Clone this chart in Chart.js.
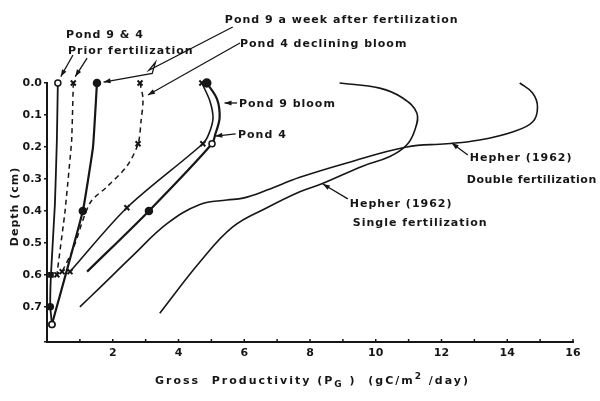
<!DOCTYPE html>
<html>
<head>
<meta charset="utf-8">
<script src="https://cdn.jsdelivr.net/npm/chart.js@4.4.0/dist/chart.umd.min.js"></script>
<style>
  html, body { margin: 0; padding: 0; background: #fff; }
  #wrap { width: 600px; height: 401px; }
</style>
</head>
<body>
<div id="wrap"><canvas id="depthChart" width="600" height="401"></canvas></div>
<script>
// Depth profile of gross productivity
const xTickLabels = [2, 4, 6, 8, 10, 12, 14, 16];
const depthTickLabels = [0.0, 0.1, 0.2, 0.3, 0.4, 0.5, 0.6, 0.7];

// Pond 9 prior fertilization (open circles)
const pond9PriorPg = [0.33, 0.3, 0.24, 0.12, 0.1, 0.15];
const pond9PriorDepth = [0.0, 0.18, 0.38, 0.6, 0.7, 0.755];

// Pond 4 prior fertilization (dashed, crosses)
const pond4PriorPg = [0.8, 0.75, 0.55, 0.3];
const pond4PriorDepth = [0.0, 0.18, 0.4, 0.6];

// Pond 9 a week after fertilization (filled circles)
const pond9WeekPg = [1.52, 1.4, 1.09, 0.15];
const pond9WeekDepth = [0.0, 0.2, 0.4, 0.755];

// Pond 4 declining bloom (dashed, crosses)
const pond4DeclPg = [2.83, 2.92, 2.86, 2.77, 2.43, 1.82, 1.31, 0.79, 0.46];
const pond4DeclDepth = [0.0, 0.05, 0.12, 0.19, 0.26, 0.325, 0.375, 0.52, 0.59];

// Pond 9 bloom
const pond9BloomPg = [4.86, 5.17, 5.25, 5.12, 5.02, 3.1, 1.22];
const pond9BloomDepth = [0.0, 0.05, 0.11, 0.16, 0.19, 0.4, 0.59];

// Pond 4 bloom
const pond4BloomPg = [4.71, 4.95, 5.05, 4.92, 4.74, 2.43, 0.7];
const pond4BloomDepth = [0.0, 0.055, 0.11, 0.16, 0.19, 0.39, 0.59];

// Hepher (1962) double fertilization
const hepherDoublePg = [1.0, 1.61, 2.61, 3.65, 4.65, 5.47, 5.96, 6.69, 7.69, 9.12, 10.94, 12.16, 13.16, 14.16, 14.77, 14.92, 14.77, 14.38];
const hepherDoubleDepth = [0.7, 0.64, 0.54, 0.44, 0.38, 0.366, 0.36, 0.335, 0.295, 0.25, 0.2, 0.19, 0.178, 0.153, 0.122, 0.075, 0.031, 0.0];

// Hepher (1962) single fertilization
const hepherSinglePg = [3.43, 4.65, 5.65, 6.69, 7.69, 8.36, 9.6, 10.43, 10.94, 11.19, 11.25, 10.82, 10.12, 8.9];
const hepherSingleDepth = [0.72, 0.56, 0.45, 0.39, 0.34, 0.315, 0.26, 0.23, 0.194, 0.147, 0.094, 0.047, 0.016, 0.0];

const INK = "#161616";
const FONT = "DejaVu Sans";

function pts(xs, ys) {
  return xs.map((x, i) => ({ x: x, y: ys[i] }));
}

// labels and leader arrows, positioned in data units
const notes = [
  { text: "Pond 9 & 4", x: 0.58, y: -0.14 },
  { text: "Prior fertilization", x: 0.64, y: -0.09 },
  { text: "Pond 9 a week after fertilization", x: 5.41, y: -0.1875 },
  { text: "Pond 4 declining bloom", x: 5.87, y: -0.1125 },
  { text: "Pond 9 bloom", x: 5.84, y: 0.075 },
  { text: "Pond 4", x: 5.81, y: 0.172 },
  { text: "Hepher (1962)", x: 12.86, y: 0.244 },
  { text: "Double fertilization", x: 12.77, y: 0.3125, spacing: "0.5px" },
  { text: "Hepher (1962)", x: 9.21, y: 0.3875 },
  { text: "Single fertilization", x: 9.3, y: 0.447 }
];
const arrows = [
  [[0.79, -0.0875], [0.42, -0.02]],
  [[1.22, -0.078], [0.86, -0.02]],
  [[5.65, -0.175], [3.1, -0.04], [3.3, -0.065], [3.2, -0.03], [1.72, -0.003]],
  [[5.87, -0.125], [3.07, 0.0375]],
  [[5.78, 0.0625], [5.4, 0.0625]],
  [[5.74, 0.159], [5.12, 0.166]],
  [[12.8, 0.225], [12.31, 0.1875]],
  [[9.15, 0.3625], [8.39, 0.316]]
];

const notesPlugin = {
  id: "notes",
  afterDraw(chart) {
    const ctx = chart.ctx;
    const xs = chart.scales.x, ys = chart.scales.y;
    const area = chart.chartArea;
    ctx.save();
    ctx.fillStyle = INK;
    ctx.strokeStyle = INK;

    // inward minor ticks on x axis
    ctx.lineWidth = 1.5;
    for (let v = 1; v <= 16; v++) {
      const px = xs.getPixelForValue(v);
      ctx.beginPath();
      ctx.moveTo(px, area.bottom);
      ctx.lineTo(px, area.bottom - 3);
      ctx.stroke();
    }

    ctx.font = "bold 11px '" + FONT + "'";
    ctx.textBaseline = "alphabetic";
    notes.forEach(n => {
      ctx.letterSpacing = n.spacing || "1px";
      ctx.fillText(n.text, xs.getPixelForValue(n.x), ys.getPixelForValue(n.y));
    });

    ctx.lineWidth = 1.3;
    arrows.forEach(a => {
      const p = a.map(q => [xs.getPixelForValue(q[0]), ys.getPixelForValue(q[1])]);
      ctx.beginPath();
      ctx.moveTo(p[0][0], p[0][1]);
      for (let i = 1; i < p.length; i++) ctx.lineTo(p[i][0], p[i][1]);
      ctx.stroke();
      const e = p[p.length - 1], s = p[p.length - 2];
      const ang = Math.atan2(e[1] - s[1], e[0] - s[0]);
      ctx.beginPath();
      ctx.moveTo(e[0], e[1]);
      ctx.lineTo(e[0] - 7 * Math.cos(ang) + 2.5 * Math.sin(ang), e[1] - 7 * Math.sin(ang) - 2.5 * Math.cos(ang));
      ctx.lineTo(e[0] - 7 * Math.cos(ang) - 2.5 * Math.sin(ang), e[1] - 7 * Math.sin(ang) + 2.5 * Math.cos(ang));
      ctx.closePath();
      ctx.fill();
    });

    // axis titles
    ctx.letterSpacing = "2px";
    let tx = 155;
    const ty = 384;
    const parts = [
      ["Gross  Productivity (P", 0],
      ["G", 3],
      [" )  (gC/m", 0],
      ["2", -5],
      [" /day)", 0]
    ];
    parts.forEach(p => {
      ctx.font = p[1] ? "bold 9px '" + FONT + "'" : "bold 11px '" + FONT + "'";
      ctx.fillText(p[0], tx, ty + p[1]);
      tx += ctx.measureText(p[0]).width;
    });

    ctx.font = "bold 11px '" + FONT + "'";
    ctx.letterSpacing = "1px";
    ctx.translate(15, (area.top + area.bottom) / 2 - 6);
    ctx.rotate(-Math.PI / 2);
    ctx.textAlign = "center";
    ctx.textBaseline = "middle";
    ctx.fillText("Depth (cm)", 0, 0);
    ctx.restore();
  }
};

Chart.defaults.font.family = FONT;
Chart.defaults.font.size = 11;
Chart.defaults.font.weight = "bold";
Chart.defaults.color = INK;

const base = { showLine: true, clip: false, borderColor: INK, fill: false, borderWidth: 1.8, tension: 0.35, pointBorderColor: INK, pointBorderWidth: 1.5 };

new Chart(document.getElementById("depthChart"), {
  type: "scatter",
  data: {
    datasets: [
      Object.assign({}, base, {
        label: "Pond 9 prior fertilization",
        data: pts(pond9PriorPg, pond9PriorDepth),
        tension: 0.1,
        pointStyle: ["circle", "circle", "circle", "rect", "circle", "circle"],
        pointRadius: [3, 0, 0, 3, 3, 3],
        pointBackgroundColor: ["#fff", INK, INK, INK, INK, "#fff"]
      }),
      Object.assign({}, base, {
        label: "Pond 4 prior fertilization",
        data: pts(pond4PriorPg, pond4PriorDepth),
        borderDash: [5, 4],
        borderWidth: 1.5,
        tension: 0.1,
        pointStyle: "crossRot",
        pointRadius: [3.5, 0, 0, 3.5],
        pointBorderWidth: 2
      }),
      Object.assign({}, base, {
        label: "Pond 9 a week after fertilization",
        data: pts(pond9WeekPg, pond9WeekDepth),
        borderWidth: 2.2,
        tension: 0.1,
        pointStyle: "circle",
        pointRadius: [3.5, 0, 3.5, 3],
        pointBackgroundColor: [INK, INK, INK, "#fff"]
      }),
      Object.assign({}, base, {
        label: "Pond 4 declining bloom",
        data: pts(pond4DeclPg, pond4DeclDepth),
        borderDash: [5, 4],
        borderWidth: 1.5,
        tension: 0.3,
        pointStyle: "crossRot",
        pointRadius: [3.5, 0, 0, 3.5, 0, 0, 0, 0, 3.5],
        pointBorderWidth: 2
      }),
      Object.assign({}, base, {
        label: "Pond 9 bloom",
        data: pts(pond9BloomPg, pond9BloomDepth),
        borderWidth: 2.2,
        tension: 0.3,
        pointStyle: "circle",
        pointRadius: [4, 0, 0, 0, 3, 3.5, 0],
        pointBackgroundColor: [INK, INK, INK, INK, "#fff", INK, INK]
      }),
      Object.assign({}, base, {
        label: "Pond 4 bloom",
        data: pts(pond4BloomPg, pond4BloomDepth),
        borderWidth: 1.6,
        tension: 0.3,
        pointStyle: "crossRot",
        pointRadius: [3.5, 0, 0, 0, 3.5, 3.5, 3.5],
        pointBorderWidth: 2
      }),
      Object.assign({}, base, {
        label: "Hepher (1962) double fertilization",
        data: pts(hepherDoublePg, hepherDoubleDepth),
        borderWidth: 1.6,
        tension: 0.4,
        pointRadius: 0
      }),
      Object.assign({}, base, {
        label: "Hepher (1962) single fertilization",
        data: pts(hepherSinglePg, hepherSingleDepth),
        borderWidth: 1.6,
        tension: 0.4,
        pointRadius: 0
      })
    ]
  },
  options: {
    responsive: false,
    animation: false,
    devicePixelRatio: 1,
    layout: { padding: { top: 83, right: 27, left: 0, bottom: 0 } },
    plugins: { legend: { display: false }, tooltip: { enabled: false } },
    scales: {
      x: {
        type: "linear",
        min: 0,
        max: 16,
        afterFit: s => { s.height = 59; },
        border: { display: true, color: INK, width: 2 },
        grid: { display: true, drawOnChartArea: false, drawTicks: false },
        ticks: {
          stepSize: 1,
          padding: 5,
          maxRotation: 0,
          autoSkip: false,
          font: { size: 11, weight: "bold" },
          callback: v => (xTickLabels.includes(v) ? String(v) : "")
        }
      },
      y: {
        type: "linear",
        reverse: true,
        min: 0,
        max: 0.81,
        afterFit: s => { s.width = 47; },
        border: { display: true, color: INK, width: 2 },
        grid: { display: true, drawOnChartArea: false, drawTicks: true, tickLength: 3, color: INK, lineWidth: 1.5 },
        ticks: {
          stepSize: 0.1,
          padding: 2,
          autoSkip: false,
          font: { size: 11, weight: "bold" },
          callback: v => {
            const hit = depthTickLabels.find(d => Math.abs(d - v) < 1e-6);
            return hit === undefined ? "" : hit.toFixed(1);
          }
        }
      }
    }
  },
  plugins: [notesPlugin]
});
</script>
</body>
</html>
